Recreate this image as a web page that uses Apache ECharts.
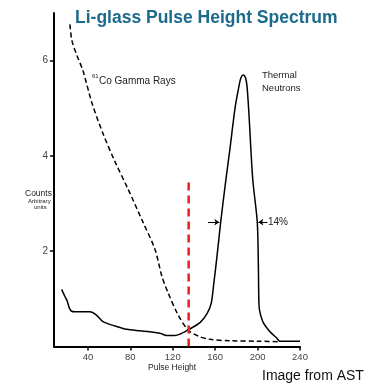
<!DOCTYPE html>
<html><head><meta charset="utf-8">
<script src="https://cdn.jsdelivr.net/npm/echarts@6/dist/echarts.min.js"></script>
<style>html,body{margin:0;padding:0;background:#fff}#c{width:371px;height:385px}</style>
</head><body><div id="c"></div>
<script>
const xTicks = [40, 80, 120, 160, 200, 240];
const yTicks = [2, 4, 6];
const neutronPulse  = [15.2, 18.3, 20.5, 22.4, 24.6, 28, 35, 41.9, 47.5, 54.2, 65.5, 76.5, 89, 98.5, 108, 114.2, 122, 126.8, 134.6, 145.7, 152.3, 156.2, 158.8, 161.7, 165.2, 170.2, 174, 178.7, 182.5, 184.3, 186.5, 188.6, 190, 191.8, 195.4, 199.7, 200.7, 201.3, 202.3, 205.4, 211.7, 218, 221.1, 240];
const neutronCounts = [1.20, 1.05, 0.95, 0.81, 0.74, 0.73, 0.73, 0.73, 0.67, 0.52, 0.43, 0.36, 0.33, 0.31, 0.28, 0.23, 0.23, 0.26, 0.35, 0.50, 0.69, 0.90, 1.34, 1.89, 2.61, 3.52, 4.16, 5.00, 5.47, 5.64, 5.70, 5.64, 5.47, 4.90, 3.52, 2.61, 1.75, 0.88, 0.71, 0.50, 0.31, 0.18, 0.11, 0.11];
const gammaPulse  = [23.0, 24.9, 29.6, 35.3, 43.8, 54.2, 65.5, 77.7, 91.9, 103.2, 109.8, 115.5, 124.9, 134.3, 143.8, 155, 174, 202, 221];
const gammaCounts = [6.76, 6.42, 6.11, 5.79, 5.11, 4.47, 3.88, 3.31, 2.61, 2.04, 1.47, 1.13, 0.67, 0.35, 0.22, 0.15, 0.12, 0.11, 0.10];
const cutoffPulse = 135;
const cutoffTop = 3.5;
const fwhmLevel = 2.61;

const zip = (a, b) => a.map((v, i) => [v, b[i]]);
const font = 'Liberation Sans, Arial, Helvetica, sans-serif';
const chart = echarts.init(document.getElementById('c'));
chart.setOption({
  animation: false,
  backgroundColor: '#fff',
  title: {
    text: 'Li-glass Pulse Height Spectrum',
    left: 70, top: 4,
    textStyle: {fontFamily: font, fontSize: 17.5, fontWeight: 'bold', color: '#1c6a8c'}
  },
  grid: {left: 54, right: 71, top: 13, bottom: 38.5},
  xAxis: {
    type: 'value', min: 8, max: 240,
    axisLine: {lineStyle: {color: '#000', width: 2}},
    axisTick: {show: true, length: 4, lineStyle: {color: '#000', width: 1.5}, customValues: xTicks},
    axisLabel: {customValues: xTicks, color: '#444', fontSize: 9.5, fontFamily: font, margin: 6},
    splitLine: {show: false}
  },
  yAxis: {
    type: 'value', min: 0, max: 7,
    axisLine: {show: true, lineStyle: {color: '#000', width: 2}},
    axisTick: {show: true, length: 4, lineStyle: {color: '#000', width: 1.5}, customValues: yTicks},
    axisLabel: {customValues: yTicks, color: '#444', fontSize: 10, fontFamily: font, margin: 6},
    splitLine: {show: false}
  },
  series: [
    {
      type: 'line', data: zip(neutronPulse, neutronCounts), smooth: 0.3, showSymbol: false,
      lineStyle: {color: '#000', width: 1.5},
      markLine: {
        silent: true, symbol: ['none', 'arrow'], symbolSize: [5, 5],
        lineStyle: {color: '#000', width: 1, type: 'solid'}, label: {show: false},
        data: [
          [{coord: [153.2, fwhmLevel]}, {coord: [163.9, fwhmLevel]}],
          [{coord: [209.2, fwhmLevel]}, {coord: [200.7, fwhmLevel]}]
        ]
      }
    },
    {
      type: 'line', data: zip(gammaPulse, gammaCounts), smooth: 0.3, showSymbol: false,
      lineStyle: {color: '#000', width: 1.5, type: [5, 3]}
    },
    {
      type: 'line', data: [[cutoffPulse, 0], [cutoffPulse, cutoffTop]], showSymbol: false,
      lineStyle: {color: '#ee1c1c', width: 2.5, type: [8, 5]}
    }
  ],
  graphic: [
    {type: 'text', left: 92, top: 73, style: {text: '61', font: '6px ' + font, fill: '#222'}},
    {type: 'text', left: 99, top: 76, style: {text: 'Co Gamma Rays', font: '10px ' + font, fill: '#222'}},
    {type: 'text', left: 262, top: 69, style: {text: 'Thermal\nNeutrons', font: '9.5px ' + font, fill: '#222', lineHeight: 13}},
    {type: 'text', left: 268, top: 217, style: {text: '14%', font: '10px ' + font, fill: '#222'}},
    {type: 'text', left: 25, top: 189, style: {text: 'Counts', font: '8.5px ' + font, fill: '#222'}},
    {type: 'text', left: 28, top: 198, style: {text: 'Arbitrary', font: '6px ' + font, fill: '#222'}},
    {type: 'text', left: 34, top: 204, style: {text: 'units', font: '6px ' + font, fill: '#222'}},
    {type: 'text', left: 148, top: 363, style: {text: 'Pulse Height', font: '8.5px ' + font, fill: '#222'}},
    {type: 'text', left: 262, top: 369, style: {text: 'Image from AST', font: '14px ' + font, fill: '#111'}}
  ]
});
</script></body></html>
